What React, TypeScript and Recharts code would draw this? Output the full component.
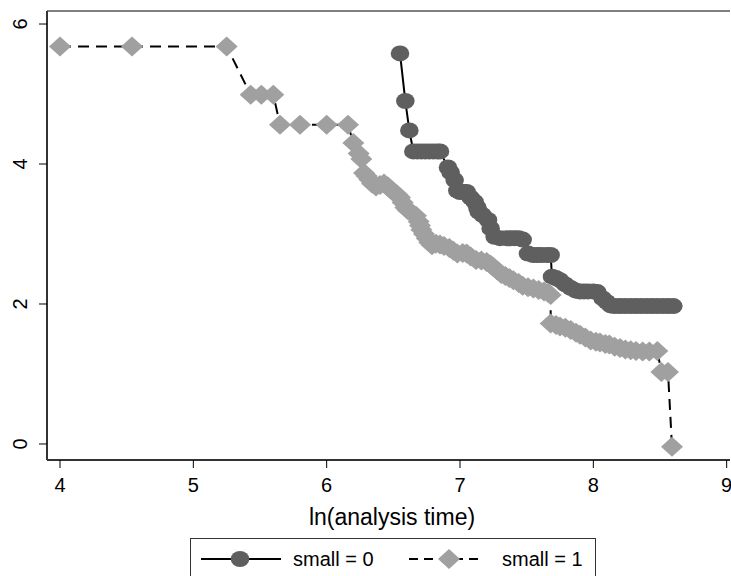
import React from "react";
import {
  ScatterChart,
  Scatter,
  XAxis,
  YAxis,
  ReferenceLine,
} from "recharts";

// ln(analysis time) vs -ln(-ln(S)) by group
const SERIES_NAMES = ["small = 0", "small = 1"];

const SMALL0_X = [
  6.55, 6.59, 6.62, 6.65, 6.68, 6.71, 6.74, 6.77, 6.8, 6.83, 6.85, 6.91, 6.93,
  6.96, 6.98, 7.0, 7.03, 7.05, 7.08, 7.11, 7.13, 7.14, 7.17, 7.21, 7.23, 7.26,
  7.3, 7.35, 7.38, 7.41, 7.44, 7.47, 7.51, 7.55, 7.58, 7.61, 7.65, 7.68, 7.69,
  7.72, 7.75, 7.79, 7.83, 7.87, 7.9, 7.93, 7.96, 8.0, 8.03, 8.07, 8.1, 8.13,
  8.16, 8.2, 8.24, 8.28, 8.32, 8.36, 8.4, 8.44, 8.48, 8.52, 8.56, 8.6,
];
const SMALL0_Y = [
  5.58, 4.9, 4.48, 4.18, 4.18, 4.18, 4.18, 4.18, 4.18, 4.18, 4.18, 3.95, 3.88,
  3.77, 3.62, 3.6, 3.6, 3.6, 3.52, 3.46, 3.38, 3.32, 3.27, 3.2, 3.08, 2.96,
  2.94, 2.94, 2.94, 2.94, 2.94, 2.92, 2.72, 2.7, 2.7, 2.7, 2.7, 2.7, 2.39,
  2.37, 2.34, 2.28, 2.23, 2.19, 2.18, 2.18, 2.18, 2.18, 2.17, 2.08, 2.03, 1.98,
  1.97, 1.97, 1.97, 1.97, 1.97, 1.97, 1.97, 1.97, 1.97, 1.97, 1.97, 1.97,
];

const SMALL1_X = [
  4.0, 4.54, 5.25, 5.43, 5.51, 5.6, 5.65, 5.8, 6.0, 6.16, 6.2, 6.24, 6.26, 6.28,
  6.3, 6.32, 6.34, 6.37, 6.4, 6.43, 6.46, 6.48, 6.5, 6.53, 6.55, 6.57, 6.59,
  6.61, 6.64, 6.67, 6.69, 6.7, 6.71, 6.73, 6.75, 6.77, 6.79, 6.82, 6.85, 6.88,
  6.92, 6.95, 6.98, 7.02, 7.05, 7.08, 7.12, 7.16, 7.2, 7.23, 7.25, 7.28, 7.31,
  7.34, 7.37, 7.4, 7.44, 7.47, 7.51, 7.55, 7.59, 7.63, 7.66, 7.68, 7.68, 7.72,
  7.75, 7.79, 7.83, 7.87, 7.9, 7.94, 7.98, 8.02, 8.05, 8.09, 8.12, 8.16, 8.2,
  8.24, 8.28, 8.32, 8.37, 8.42, 8.48, 8.51, 8.56, 8.59,
];
const SMALL1_Y = [
  5.68, 5.68, 5.68, 4.99, 4.99, 4.99, 4.56, 4.56, 4.56, 4.56, 4.3, 4.15, 4.07,
  3.87, 3.83, 3.78, 3.72, 3.68, 3.7, 3.72, 3.68, 3.64, 3.6, 3.56, 3.52, 3.45,
  3.38, 3.34, 3.3, 3.26, 3.18, 3.12, 3.06, 3.0, 2.94, 2.88, 2.84, 2.86, 2.85,
  2.83, 2.8, 2.76, 2.72, 2.73, 2.72, 2.68, 2.63, 2.62, 2.6, 2.56, 2.53, 2.48,
  2.43, 2.4, 2.37, 2.34, 2.3, 2.26, 2.24, 2.22, 2.2, 2.18, 2.16, 2.13, 1.72,
  1.7, 1.68, 1.66, 1.63, 1.59, 1.56, 1.52, 1.48, 1.46, 1.45, 1.43, 1.42, 1.39,
  1.37, 1.35, 1.34, 1.33, 1.32, 1.32, 1.33, 1.03, 1.03, -0.04,
];

const X_TICKS = [4, 5, 6, 7, 8, 9];
const Y_TICKS = [0, 2, 4, 6];
const X_DOMAIN = [3.9025, 9.025];
const Y_DOMAIN = [-0.229, 6.186];

const toPoints = (xs: number[], ys: number[]) =>
  xs.map((x, i) => ({ x, y: ys[i] }));

const FONT = '"Liberation Sans", Arial, sans-serif';
const DARK = "#5f5f5f";
const LIGHT = "#a0a0a0";
const DASH = "11 7";

const Circle = (props: any) => (
  <ellipse cx={props.cx} cy={props.cy} rx={9.3} ry={8} fill={DARK} />
);

const Diamond = (props: any) => {
  const { cx, cy } = props;
  return (
    <polygon
      points={`${cx - 11},${cy} ${cx},${cy - 10} ${cx + 11},${cy} ${cx},${cy + 10}`}
      fill={LIGHT}
    />
  );
};

const XTick = (props: any) => (
  <text
    x={props.x}
    y={492}
    textAnchor="middle"
    fontSize={20}
    fontFamily={FONT}
    fill="#000"
  >
    {props.payload.value}
  </text>
);

const YTick = (props: any) => (
  <text
    x={27}
    y={props.y}
    transform={`rotate(-90 27 ${props.y})`}
    textAnchor="middle"
    fontSize={20}
    fontFamily={FONT}
    fill="#000"
  >
    {props.payload.value}
  </text>
);

const XTitle = () => (
  <text
    x={392}
    y={525}
    textAnchor="middle"
    fontSize={23}
    fontFamily={FONT}
    fill="#000"
  >
    ln(analysis time)
  </text>
);

const LegendBox = () => (
  <div
    style={{
      position: "absolute",
      left: 190,
      top: 538,
      width: 406,
      height: 42,
      border: "1px solid #333",
      boxSizing: "border-box",
      background: "#fff",
    }}
  >
    <svg width={404} height={40} style={{ display: "block" }}>
      <line x1={10} y1={20} x2={90} y2={20} stroke="#000" strokeWidth={2} />
      <ellipse cx={49} cy={20} rx={9.3} ry={8} fill={DARK} />
      <text x={102} y={27} fontSize={20} fontFamily={FONT} fill="#000">
        {SERIES_NAMES[0]}
      </text>
      <line
        x1={218}
        y1={20}
        x2={292}
        y2={20}
        stroke="#000"
        strokeWidth={2}
        strokeDasharray="9 6"
      />
      <polygon points="247,20 258,10 269,20 258,30" fill={LIGHT} />
      <text x={311} y={27} fontSize={20} fontFamily={FONT} fill="#000">
        {SERIES_NAMES[1]}
      </text>
    </svg>
  </div>
);

export default function App() {
  return (
    <div
      style={{
        position: "absolute",
        left: 0,
        top: 0,
        width: 731,
        height: 576,
        overflow: "hidden",
        background: "#fff",
      }}
    >
      <ScatterChart
        width={731}
        height={576}
        margin={{ top: 11, right: 1, bottom: 56, left: 0 }}
      >
        <XAxis
          type="number"
          dataKey="x"
          domain={X_DOMAIN}
          ticks={X_TICKS}
          allowDataOverflow
          height={60}
          tickSize={8}
          tick={<XTick />}
          axisLine={{ stroke: "#333", strokeWidth: 2 }}
          tickLine={{ stroke: "#000", strokeWidth: 1 }}
          label={<XTitle />}
        />
        <YAxis
          type="number"
          dataKey="y"
          domain={Y_DOMAIN}
          ticks={Y_TICKS}
          allowDataOverflow
          width={47}
          tickSize={8}
          tick={<YTick />}
          axisLine={{ stroke: "#333", strokeWidth: 2 }}
          tickLine={{ stroke: "#000", strokeWidth: 1 }}
        />
        <ReferenceLine y={Y_DOMAIN[1]} stroke="#000" strokeWidth={1} />
        <Scatter
          name={SERIES_NAMES[0]}
          data={toPoints(SMALL0_X, SMALL0_Y)}
          line={{ stroke: "#000", strokeWidth: 2 }}
          lineType="joint"
          shape={<Circle />}
          isAnimationActive={false}
        />
        <Scatter
          name={SERIES_NAMES[1]}
          data={toPoints(SMALL1_X, SMALL1_Y)}
          line={{ stroke: "#000", strokeWidth: 2, strokeDasharray: DASH }}
          lineType="joint"
          shape={<Diamond />}
          isAnimationActive={false}
        />
      </ScatterChart>
      <LegendBox />
    </div>
  );
}
